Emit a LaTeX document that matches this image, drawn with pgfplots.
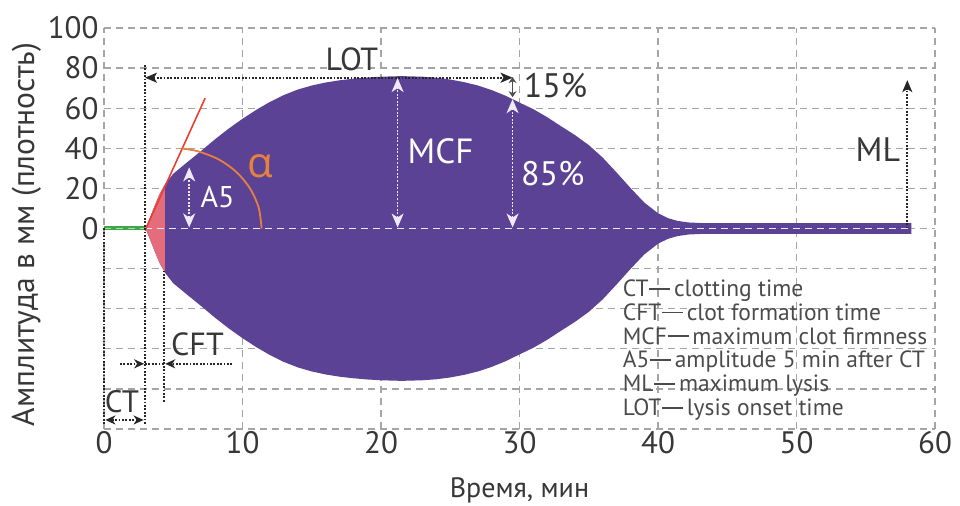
\documentclass[border=0pt]{standalone}
\usepackage{fontspec}
\setmainfont{PT Sans}
\newfontfamily\grfont{Open Sans}
\usepackage{pgfplots}
\pgfplotsset{compat=1.18}
\usetikzlibrary{arrows.meta}

\definecolor{clotpurple}{RGB}{92,66,148}
\definecolor{clotpink}{RGB}{229,108,124}
\definecolor{tanred}{RGB}{234,62,48}
\definecolor{arcorange}{RGB}{230,128,62}
\definecolor{ctgreen}{RGB}{62,168,72}
\definecolor{gridgray}{RGB}{165,165,165}
\definecolor{txt}{RGB}{55,55,55}
\definecolor{arrwhite}{RGB}{238,232,248}

\newcommand\fs[1]{\fontsize{#1}{#1}\selectfont}
\newcommand\dsh{\hspace{0.02em}\rule[0.3em]{0.9em}{0.07em}\hspace{0.16em}}

\begin{document}
\begin{tikzpicture}[
  whitearr/.style={draw=arrwhite, line width=1.6pt, dash pattern=on 2pt off 1.6pt,
    {Stealth[length=14pt,width=12pt,inset=4pt]}-{Stealth[length=14pt,width=12pt,inset=4pt]}},
  blackdot/.style={draw=black!85, line width=1.8pt, dash pattern=on 1.8pt off 1.6pt},
  lab/.style={text=txt, inner sep=0pt},
]
\begin{axis}[
  width=831pt, height=401pt, scale only axis,
  xmin=0, xmax=60, ymin=-100, ymax=100,
  axis line style={draw=none},
  xtick={0,10,...,60},
  ytick={-100,-80,...,100},
  yticklabels={,,,,,0,20,40,60,80,100},
  major tick length=0pt,
  grid=major,
  major grid style={gridgray, line width=1.3pt, dash pattern=on 7pt off 5pt},
  tick label style={font=\fs{31}, text=txt},
  xticklabel style={yshift=1pt},
  yticklabel style={xshift=-2pt},
  /pgf/number format/assume math mode=true,
  clip=false,
]

% clot shape (upper edge, then lower edge back)
\addplot[draw=none, fill=clotpurple] coordinates {
(3,0) (3.3,5) (3.7,12) (4.0,17) (4.4,22) (5,27.3) (6,33) (7,38.6) (8,44.4)
(9,49.8) (10,54.7) (11,59.2) (12,63.2) (13,66.6) (14,69.3) (15,71.3) (16,72.8)
(17,73.9) (18,74.7) (19,75.3) (20,75.7) (21.5,76) (23,75.7) (24,75.2) (25,74.3)
(26,73) (27,71.3) (28,69) (29,66.2) (30,62.8) (31,59.5) (32,55.5) (33,51)
(34,46.6) (35,41.6) (36,35.4) (37,28) (38,20.3) (39,13) (40,7.6) (40.7,5.2)
(41.4,3.8) (42.2,3) (43.2,2.7) (58.3,2.7)
(58.3,-2.7) (43.2,-2.7) (42.2,-3) (41.4,-3.8) (40.7,-5.2) (40,-7.6) (39,-13)
(38,-20.3) (37,-28) (36,-35.4) (35,-41.6) (34,-46.6) (33,-51) (32,-55.5)
(31,-59.5) (30,-62.8) (29,-66.2) (28,-69) (27,-71.3) (26,-73) (25,-74.3)
(24,-75.2) (23,-75.7) (21.5,-76) (20,-75.7) (19,-75.3) (18,-74.7) (17,-73.9)
(16,-72.8) (15,-71.3) (14,-69.3) (13,-66.6) (12,-63.2) (11,-59.2) (10,-54.7)
(9,-49.8) (8,-44.4) (7,-38.6) (6,-33) (5,-27.3) (4.4,-22) (4.0,-17) (3.7,-12)
(3.3,-5)
} -- cycle;

% clot formation part
\addplot[draw=none, fill=clotpink] coordinates {
(3,0) (3.3,5) (3.7,12) (4.0,17) (4.4,22)
(4.4,-22) (4.0,-17) (3.7,-12) (3.3,-5)
} -- cycle;

% clotting time baseline
\addplot[ctgreen, line width=4pt] coordinates {(0,0) (2.96,0)};
\draw[ctgreen!45!white, line width=0.8pt, dash pattern=on 7pt off 5pt] (axis cs:0,0) -- (axis cs:2.96,0);
\draw[arrwhite, line width=1.5pt, dash pattern=on 7pt off 5pt] (axis cs:2.96,0) -- (axis cs:58.3,0);

% tangent and angle
\addplot[tanred, line width=1.6pt] coordinates {(2.96,-1) (7.3,65)};
\addplot[arcorange, line width=1.8pt, smooth] coordinates {
(5.65,39.85) (6.73,38.6) (8.24,34.6) (9.54,28.3) (10.54,20) (11.17,10.35) (11.38,0)
};
\node[text=arcorange, inner sep=0pt] at (axis cs:11.3,31) {\grfont\fs{42}α};

% white arrows inside the clot
\draw[whitearr] (axis cs:6.15,0.5) -- (axis cs:6.15,30.5);
\node[text=white, inner sep=0pt] at (axis cs:8.2,15.7) {\fs{30}A5};
\draw[whitearr] (axis cs:21.2,0.5) -- (axis cs:21.2,75);
\node[text=white, inner sep=0pt] at (axis cs:24.3,38.6) {\fs{35}MCF};
\draw[whitearr] (axis cs:29.5,0.5) -- (axis cs:29.5,64.5);
\node[text=white, inner sep=0pt] at (axis cs:32.4,27.2) {\fs{34}85\%};
\draw[draw=black!70, line width=1.4pt, {Stealth[length=6pt,width=8pt]}-{Stealth[length=6pt,width=8pt]}]
  (axis cs:29.5,65.5) -- (axis cs:29.5,75.5);
\node[lab] at (axis cs:32.6,71.1) {\fs{34}15\%};

% LOT
\draw[blackdot] (axis cs:2.96,81.5) -- (axis cs:2.96,-97.5);
\draw[blackdot, {Stealth[length=12pt,width=10pt,inset=3pt]}-{Stealth[length=12pt,width=10pt,inset=3pt]}]
  (axis cs:2.96,75.2) -- (axis cs:29.5,75.2);
\node[lab] at (axis cs:17.9,84.5) {\fs{32}LOT};

% CT
\draw[blackdot] (axis cs:0,0) -- (axis cs:0,-97.5);
\draw[blackdot, {Stealth[length=10pt,width=9pt,inset=3pt]}-{Stealth[length=10pt,width=9pt,inset=3pt]}]
  (axis cs:0.1,-95.5) -- (axis cs:2.86,-95.5);
\node[lab] at (axis cs:1.3,-86.5) {\fs{31}CT};

% CFT
\draw[blackdot] (axis cs:4.35,-21) -- (axis cs:4.35,-87);
\draw[blackdot, -{Stealth[length=10pt,width=9pt,inset=3pt]}] (axis cs:1.15,-67.5) -- (axis cs:2.9,-67.5);
\draw[blackdot] (axis cs:2.96,-67.5) -- (axis cs:4.35,-67.5);
\draw[blackdot, -{Stealth[length=10pt,width=9pt,inset=3pt]}] (axis cs:9.25,-67.5) -- (axis cs:4.42,-67.5);
\node[lab] at (axis cs:6.75,-57.6) {\fs{32}CFT};

% ML
\draw[blackdot, -{Stealth[length=12pt,width=10pt,inset=3pt]}] (axis cs:58,0) -- (axis cs:58,74);
\node[lab, anchor=east] at (axis cs:57.5,39.1) {\fs{34}ML};

% legend of abbreviations
\node[lab, anchor=north west, align=left, text=txt!90,
      font={\fontsize{23.5}{23.8}\selectfont}]
  at (axis cs:37.45,-25.5) {%
  CT\dsh clotting time\\
  CFT\dsh clot formation time\\
  MCF\dsh maximum clot firmness\\
  A5\dsh amplitude 5 min after CT\\
  ML\dsh maximum lysis\\
  LOT\dsh lysis onset time};

% axis titles
\node[lab, rotate=90] at (axis cs:-5.6,-3) {\fs{31.5}Амплитуда в мм (плотность)};
\node[lab] at (axis cs:30,-130.6) {\fs{28}Время, мин};

\coordinate (bbl) at (axis cs:-7.509,-138.4);
\coordinate (btr) at (axis cs:61.805,113.96);
\end{axis}
\pgfresetboundingbox
\path[use as bounding box] (bbl) rectangle (btr);
\end{tikzpicture}
\end{document}
